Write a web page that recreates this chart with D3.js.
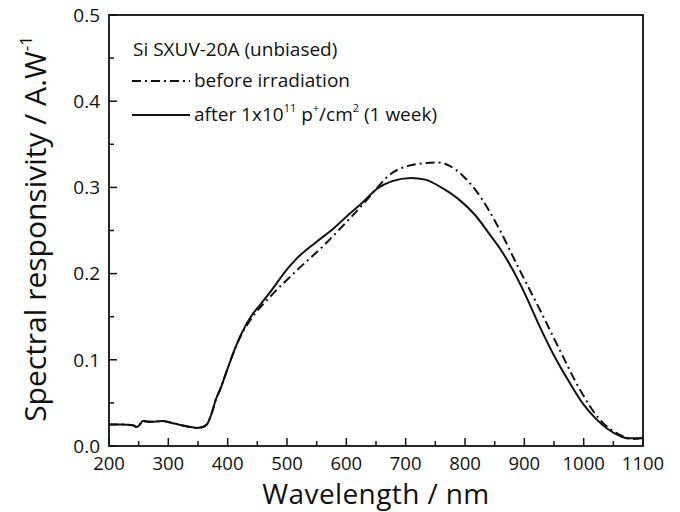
<!DOCTYPE html>
<html><head><meta charset="utf-8">
<script src="https://cdn.jsdelivr.net/npm/d3@7"></script>
<style>body{margin:0;background:#fff}svg{display:block}text{font-family:"Open Sans",sans-serif;fill:#111}</style>
</head><body><svg id="c" width="680" height="512"></svg>
<script>
const wavelengthsAfter = [200,220,240,247,252,257,270,290,310,330,348,358,365,370,375,380,387,399,409,423,440,455,470,500,517,550,578,600,625,653,676,709,733,760,788,817,840,860,880,900,925,950,975,1000,1020,1040,1060,1075,1090,1100];
const valuesAfter =      [0.025,0.025,0.024,0.022,0.025,0.029,0.028,0.029,0.026,0.023,0.021,0.022,0.025,0.032,0.042,0.054,0.065,0.088,0.107,0.130,0.151,0.164,0.177,0.205,0.218,0.237,0.252,0.266,0.281,0.299,0.307,0.311,0.309,0.300,0.287,0.268,0.247,0.228,0.205,0.178,0.140,0.105,0.075,0.048,0.032,0.020,0.012,0.009,0.009,0.010];
const wavelengthsBefore = [200,220,240,247,252,257,270,290,310,330,348,358,365,370,375,380,387,399,409,423,440,470,517,567,603,625,650,670,704,730,753,771,800,822,856,890,927,960,994,1028,1061,1083,1100];
const valuesBefore =      [0.025,0.025,0.024,0.022,0.025,0.029,0.028,0.029,0.026,0.023,0.021,0.022,0.025,0.032,0.042,0.054,0.065,0.088,0.107,0.129,0.148,0.172,0.204,0.236,0.262,0.278,0.298,0.313,0.325,0.328,0.329,0.326,0.311,0.293,0.254,0.207,0.157,0.111,0.065,0.030,0.013,0.008,0.009];
const xTicks = [200,300,400,500,600,700,800,900,1000,1100];
const yTicks = [0.0,0.1,0.2,0.3,0.4,0.5];

const svg = d3.select("#c");
const L=109,R=643,T=15,B=446;
const x = d3.scaleLinear().domain([200,1100]).range([L,R]);
const y = d3.scaleLinear().domain([0,0.5]).range([B,T]);

const xMinor = d3.range(250,1100,100);
const yMinor = d3.range(0.05,0.5,0.1);
const g = svg.append("g");
g.selectAll(".xmaj").data(xTicks).join("line").attr("x1",d=>x(d)).attr("x2",d=>x(d)).attr("y1",B).attr("y2",B-8).attr("stroke","#111").attr("stroke-width",1.5);
g.selectAll(".xmin").data(xMinor).join("line").attr("x1",d=>x(d)).attr("x2",d=>x(d)).attr("y1",B).attr("y2",B-5).attr("stroke","#111").attr("stroke-width",1.5);
g.selectAll(".ymaj").data(yTicks).join("line").attr("y1",d=>y(d)).attr("y2",d=>y(d)).attr("x1",L).attr("x2",L+8).attr("stroke","#111").attr("stroke-width",1.5);
g.selectAll(".ymin").data(yMinor).join("line").attr("y1",d=>y(d)).attr("y2",d=>y(d)).attr("x1",L).attr("x2",L+5).attr("stroke","#111").attr("stroke-width",1.5);

g.selectAll(".xl").data(xTicks).join("text").attr("x",d=>x(d)).attr("y",469.5).attr("text-anchor","middle").attr("font-size",18.5).text(d=>d);
g.selectAll(".yl").data(yTicks).join("text").attr("x",L-9).attr("y",d=>y(d)).attr("dy","0.36em").attr("text-anchor","end").attr("font-size",19).text(d=>d.toFixed(1));

const line = d3.line().x(d=>x(d[0])).y(d=>y(d[1])).curve(d3.curveMonotoneX);
const before = wavelengthsBefore.map((w,i)=>[w,valuesBefore[i]]);
const after = wavelengthsAfter.map((w,i)=>[w,valuesAfter[i]]);
svg.append("path").attr("d",line(before)).attr("fill","none").attr("stroke","#111").attr("stroke-width",2).attr("stroke-dasharray","9,4,2,4");
svg.append("path").attr("d",line(after)).attr("fill","none").attr("stroke","#111").attr("stroke-width",2);

svg.append("rect").attr("x",L).attr("y",T).attr("width",R-L).attr("height",B-T).attr("fill","none").attr("stroke","#111").attr("stroke-width",1.8);

// legend
svg.append("text").attr("x",133).attr("y",56).attr("font-size",19).text("Si SXUV-20A (unbiased)");
svg.append("line").attr("x1",132).attr("x2",190).attr("y1",81).attr("y2",81).attr("stroke","#111").attr("stroke-width",2).attr("stroke-dasharray","9,4,2,4");
svg.append("text").attr("x",194).attr("y",87).attr("font-size",19).text("before irradiation");
svg.append("line").attr("x1",132).attr("x2",190).attr("y1",115).attr("y2",115).attr("stroke","#111").attr("stroke-width",2);
const t3 = svg.append("text").attr("x",194).attr("y",121).attr("font-size",19);
t3.append("tspan").text("after 1x10");
t3.append("tspan").attr("font-size",11).attr("dy",-9).text("11");
t3.append("tspan").attr("dy",9).text(" p");
t3.append("tspan").attr("font-size",11).attr("dy",-9).text("+");
t3.append("tspan").attr("dy",9).text("/cm");
t3.append("tspan").attr("font-size",11).attr("dy",-9).text("2");
t3.append("tspan").attr("dy",9).text(" (1 week)");

// axis titles
svg.append("text").attr("x",(L+R)/2).attr("y",504).attr("text-anchor","middle").attr("font-size",28).attr("letter-spacing","0.4px").text("Wavelength / nm");
const yt = svg.append("text").attr("transform","translate(46,229) rotate(-90)").attr("text-anchor","middle").attr("font-size",30);
yt.append("tspan").text("Spectral responsivity / A.W");
yt.append("tspan").attr("font-size",17).attr("dy",-14).text("-1");
</script></body></html>
